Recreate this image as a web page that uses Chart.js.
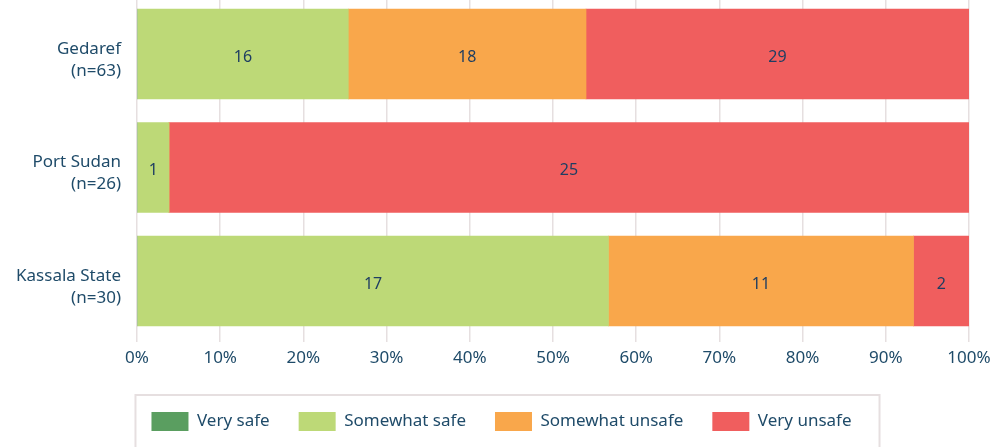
<!DOCTYPE html>
<html>
<head>
<meta charset="utf-8">
<script src="https://cdn.jsdelivr.net/npm/chart.js@4"></script>
<style>
  html, body { margin: 0; padding: 0; background: #fff; }
  #wrap { width: 993px; height: 447px; }
</style>
</head>
<body>
<div id="wrap"><canvas id="chart" width="993" height="447"></canvas></div>
<script>
// Locations (top to bottom) and respondent counts per answer
const locations = [['Gedaref', '(n=63)'], ['Port Sudan', '(n=26)'], ['Kassala State', '(n=30)']];
const answers = ['Very safe', 'Somewhat safe', 'Somewhat unsafe', 'Very unsafe'];
const verySafe = [0, 0, 0];
const somewhatSafe = [16, 1, 17];
const somewhatUnsafe = [18, 0, 11];
const veryUnsafe = [29, 25, 2];
const xTicks = [0, 10, 20, 30, 40, 50, 60, 70, 80, 90, 100];

const colors = ['#5a9e60', '#bdd977', '#f9a74b', '#f05e5e'];
const textColor = '#1f4b69';
const FONT = '"Noto Sans", sans-serif';

const counts = [verySafe, somewhatSafe, somewhatUnsafe, veryUnsafe];
const totals = locations.map((l, i) => counts.reduce((s, c) => s + c[i], 0));

// each bar segment is the share of the location total, raw count kept for the label
const datasets = answers.map((name, k) => ({
    label: name,
    backgroundColor: colors[k],
    borderWidth: 0,
    barThickness: 90,
    counts: counts[k],
    data: counts[k].map((c, i) => ({ x: c / totals[i] * 100, y: i }))
}));

// writes the count in the middle of each segment
const segmentLabels = {
    id: 'segmentLabels',
    afterDatasetsDraw(chart) {
        const ctx = chart.ctx;
        ctx.save();
        ctx.font = '16px ' + FONT;
        ctx.fillStyle = '#1f3e62';
        ctx.textAlign = 'center';
        ctx.textBaseline = 'middle';
        chart.data.datasets.forEach((ds, k) => {
            const meta = chart.getDatasetMeta(k);
            meta.data.forEach((bar, i) => {
                if (!ds.counts[i]) return;
                ctx.fillText(String(ds.counts[i]), (bar.x + bar.base) / 2, bar.y + 3);
            });
        });
        ctx.restore();
    }
};

// legend sits a bit right of the canvas centre, with a thin frame round it
const legendFrame = {
    id: 'legendFrame',
    afterUpdate(chart) {
        const lg = chart.legend;
        lg.left += 17;
        lg.right += 17;
        (lg.legendHitBoxes || []).forEach(b => { b.left += 17; });
    },
    afterDraw(chart) {
        const boxes = chart.legend.legendHitBoxes;
        if (!boxes || !boxes.length) return;
        const first = boxes[0], last = boxes[boxes.length - 1];
        const ctx = chart.ctx;
        ctx.save();
        ctx.strokeStyle = '#e6dfe0';
        ctx.lineWidth = 2;
        ctx.strokeRect(first.left - 16, first.top - 17, last.left + last.width - first.left + 44, 80);
        ctx.restore();
    }
};

new Chart(document.getElementById('chart'), {
    type: 'bar',
    data: { datasets: datasets },
    plugins: [segmentLabels, legendFrame],
    options: {
        responsive: false,
        animation: false,
        indexAxis: 'y',
        layout: { padding: { left: 0, right: 24, top: 0, bottom: 6 } },
        scales: {
            x: {
                type: 'linear',
                stacked: true,
                min: 0,
                max: 100,
                afterBuildTicks: (scale) => { scale.ticks = xTicks.map(v => ({ value: v })); },
                afterFit: (scale) => {
                    scale.height = 56;
                    scale.paddingLeft = 0;
                    scale.paddingRight = 0;
                },
                ticks: {
                    callback: (v) => v + '%',
                    color: textColor,
                    font: { family: FONT, size: 17 },
                    padding: 6
                },
                grid: { color: '#e6dfe0', lineWidth: 1.5, tickLength: 15, drawTicks: true },
                border: { display: false }
            },
            y: {
                type: 'linear',
                stacked: true,
                reverse: true,
                offset: false,
                min: -0.476,
                max: 2.405,
                afterBuildTicks: (scale) => { scale.ticks = locations.map((l, i) => ({ value: i })); },
                afterFit: (scale) => {
                    scale.width = 137;
                    scale.paddingTop = 0;
                    scale.paddingBottom = 0;
                },
                ticks: {
                    callback: (v) => locations[v],
                    color: textColor,
                    font: { family: FONT, size: 17, lineHeight: 1.3 },
                    padding: 8,
                    labelOffset: 6
                },
                grid: { display: false, offset: false },
                border: { display: false }
            }
        },
        plugins: {
            tooltip: { enabled: false },
            legend: {
                position: 'bottom',
                labels: {
                    boxWidth: 37,
                    boxHeight: 19,
                    padding: 29,
                    color: textColor,
                    font: { family: FONT, size: 17 }
                }
            }
        }
    }
});
</script>
</body>
</html>
